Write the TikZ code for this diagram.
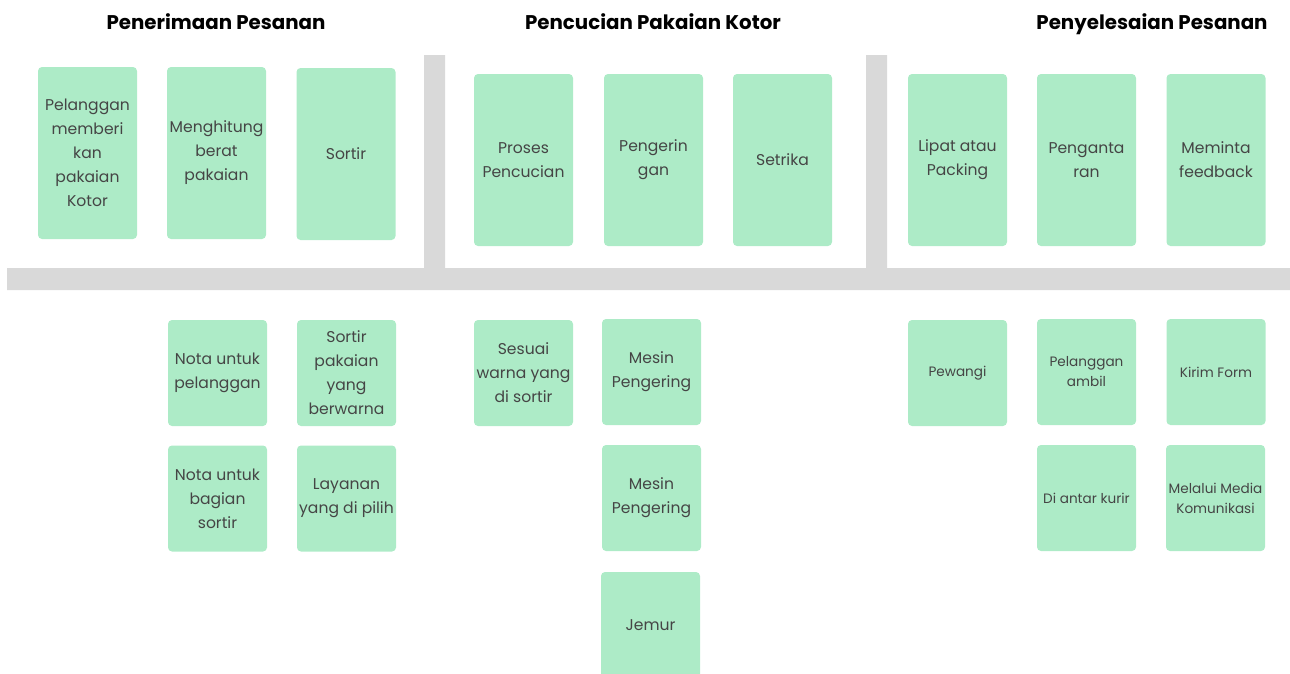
\documentclass[tikz,border=0pt]{standalone}
\usepackage{fontspec}
\setmainfont{Poppins}
\definecolor{hijaukartu}{HTML}{ADEBC7}
\definecolor{abupalang}{HTML}{D9D9D9}
\definecolor{teksabu}{HTML}{454545}
\tikzset{
    kartu/.style={fill=hijaukartu, rounded corners=4pt, inner sep=0pt,
        minimum width=99pt, minimum height=172pt, align=center,
        text=teksabu, font=\fontsize{15.6}{24}\selectfont},
    kartupendek/.style={kartu, minimum height=106pt},
    kartukecil/.style={kartupendek, font=\fontsize{13.6}{20}\selectfont},
    judul/.style={anchor=base, font=\bfseries\fontsize{19.8}{22}\selectfont}
}
\begin{document}
\begin{tikzpicture}[x=1pt,y=-1pt]
        \useasboundingbox
        (0,0) rectangle (1290,673)
        ;
        \fill[abupalang]
        (7,268) rectangle (1290,290)
        (424,55) rectangle (445,268)
        (866,55) rectangle (887,268)
        ;
        \node[judul] (jterima) at (216,29) {Penerimaan Pesanan};
        \node[judul] (jcuci) at (653,29) {Pencucian Pakaian Kotor};
        \node[judul] (jselesai) at (1152,29) {Penyelesaian Pesanan};

        \node[kartu] (terima) at (87.5,153) {Pelanggan\\memberi\\kan\\pakaian\\Kotor};
        \node[kartu] (hitung) at (216.5,153) {Menghitung\\berat\\pakaian};
        \node[kartu] (sortir) at (346,154) {Sortir};
        \node[kartu] (cuci) at (523.5,160) {Proses\\Pencucian};
        \node[kartu] (kering) at (653.5,160) {Pengerin\\gan};
        \node[kartu] (setrika) at (782.5,160) {Setrika};
        \node[kartu] (lipat) at (957.5,160) {Lipat atau\\Packing};
        \node[kartu] (antar) at (1086.5,160) {Penganta\\ran};
        \node[kartu] (feedback) at (1216,160) {Meminta\\feedback};

        \node[kartupendek] (notapel) at (217.5,373) {Nota untuk\\pelanggan};
        \node[kartupendek] (sortwarna) at (346.5,373) {Sortir\\pakaian\\yang\\berwarna};
        \node[kartupendek] (notasort) at (217.5,498.5) {Nota untuk\\bagian\\sortir};
        \node[kartupendek] (layanan) at (346.5,498.5) {Layanan\\yang di pilih};
        \node[kartupendek] (sesuai) at (523.5,373) {Sesuai\\warna yang\\di sortir};
        \node[kartupendek] (mesin1) at (651.5,372) {Mesin\\Pengering};
        \node[kartupendek] (mesin2) at (651.5,498) {Mesin\\Pengering};
        \node[kartupendek] (jemur) at (650.5,625) {Jemur};
        \node[kartukecil] (wangi) at (957.5,373) {Pewangi};
        \node[kartukecil] (ambil) at (1086.5,372) {Pelanggan\\ambil};
        \node[kartukecil] (form) at (1216,372) {Kirim Form};
        \node[kartukecil] (kurir) at (1086.5,498) {Di antar kurir};
        \node[kartukecil] (media) at (1215.5,498) {Melalui Media\\Komunikasi};
    \end{tikzpicture}
\end{document}
